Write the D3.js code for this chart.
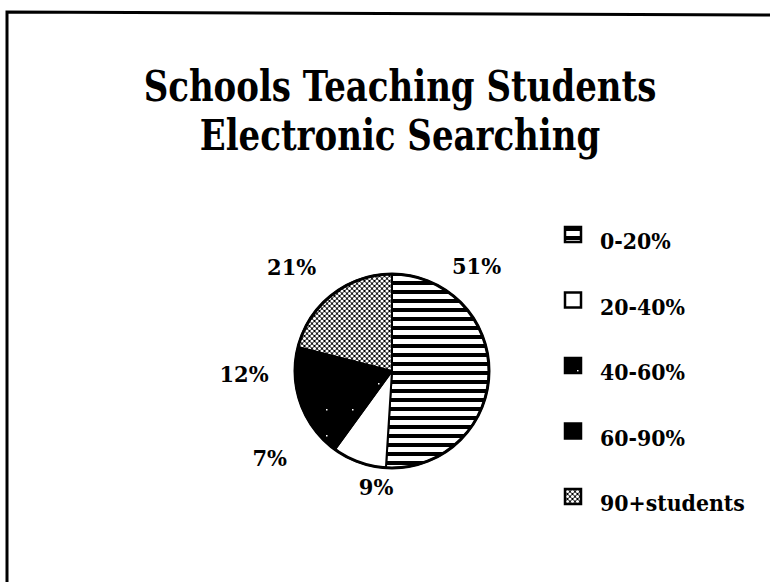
<!DOCTYPE html>
<html>
<head>
<meta charset="utf-8">
<script src="https://cdn.jsdelivr.net/npm/d3@7"></script>
<style>
  body { margin: 0; background: #fff; }
  text { font-family: "DejaVu Serif", "Liberation Serif", serif; font-weight: bold; fill: #000; }
</style>
</head>
<body>
<div class="chart"></div>
<script>
const titleLines = ["Schools Teaching Students", "Electronic Searching"];
const categories = ["0-20%", "20-40%", "40-60%", "60-90%", "90+students"];
const values = [51, 9, 7, 12, 21];

const width = 770,
  height = 582;

// pie placement
const cx = 392,
  cy = 371,
  radius = 97;

// label placement: angle offset from slice middle (deg) and distance from centre
const labelShift = [-53, -12, 6, 6, -6];
const labelDist = [135, 117, 150, 148, 145];

const fills = ["url(#stripes)", "#fff", "url(#sparse)", "#000", "url(#dots)"];

const svg = d3
  .select(".chart")
  .append("svg")
  .attr("width", width)
  .attr("height", height);

svg.append("rect").attr("width", width).attr("height", height).attr("fill", "#fff");

const defs = svg.append("defs");

const stripes = defs
  .append("pattern")
  .attr("id", "stripes")
  .attr("patternUnits", "userSpaceOnUse")
  .attr("width", 10)
  .attr("height", 9);
stripes.append("rect").attr("width", 10).attr("height", 9).attr("fill", "#fff");
stripes.append("rect").attr("width", 10).attr("height", 4).attr("fill", "#000");

const dots = defs
  .append("pattern")
  .attr("id", "dots")
  .attr("patternUnits", "userSpaceOnUse")
  .attr("width", 5)
  .attr("height", 5);
dots.append("rect").attr("width", 5).attr("height", 5).attr("fill", "#000");
[[0, 0], [5, 0], [0, 5], [5, 5], [2.5, 2.5]].forEach((p) => {
  dots.append("circle").attr("cx", p[0]).attr("cy", p[1]).attr("r", 1.6).attr("fill", "#fff");
});

const sparse = defs
  .append("pattern")
  .attr("id", "sparse")
  .attr("patternUnits", "userSpaceOnUse")
  .attr("width", 26)
  .attr("height", 26);
sparse.append("rect").attr("width", 26).attr("height", 26).attr("fill", "#000");
sparse.append("rect").attr("x", 12).attr("y", 12).attr("width", 1.5).attr("height", 1.5).attr("fill", "#fff");

// frame (left and top edges only)
svg
  .append("path")
  .attr("d", "M7,582 L7,12 L770,15")
  .attr("fill", "none")
  .attr("stroke", "#000")
  .attr("stroke-width", 3);

// title (the original face is taller than DejaVu, so stretch it vertically)
svg
  .append("g")
  .selectAll("text")
  .data(titleLines)
  .enter()
  .append("text")
  .attr("transform", (d, i) => `translate(400, ${101 + i * 49}) scale(1, 1.25)`)
  .attr("text-anchor", "middle")
  .attr("font-size", 34)
  .text((d) => d);

// pie
const pie = d3.pie().sort(null).value((d) => d);
const arcs = pie(values);
const arc = d3.arc().innerRadius(0).outerRadius(radius);

const pieGroup = svg.append("g").attr("transform", `translate(${cx}, ${cy})`);

pieGroup
  .selectAll("path")
  .data(arcs)
  .enter()
  .append("path")
  .attr("d", arc)
  .attr("fill", (d, i) => fills[i])
  .attr("stroke", "#000")
  .attr("stroke-width", 2)
  .attr("stroke-linejoin", "round");

pieGroup
  .append("circle")
  .attr("r", radius)
  .attr("fill", "none")
  .attr("stroke", "#000")
  .attr("stroke-width", 3);

pieGroup
  .selectAll(".label")
  .data(arcs)
  .enter()
  .append("text")
  .attr("class", "label")
  .attr("transform", (d, i) => {
    const a = (d.startAngle + d.endAngle) / 2 + (labelShift[i] * Math.PI) / 180;
    const r = labelDist[i];
    return `translate(${r * Math.sin(a)}, ${-r * Math.cos(a)}) scale(1, 1.08)`;
  })
  .attr("text-anchor", "middle")
  .attr("dy", "0.36em")
  .attr("font-size", 21)
  .text((d) => d.data + "%");

// legend
const legend = svg
  .append("g")
  .selectAll("g")
  .data(categories)
  .enter()
  .append("g")
  .attr("transform", (d, i) => `translate(565, ${227 + i * 65.5})`);

legend
  .append("rect")
  .attr("width", 16)
  .attr("height", 15)
  .attr("fill", (d, i) => fills[i])
  .attr("stroke", "#000")
  .attr("stroke-width", 2.5);

legend
  .append("text")
  .attr("transform", "translate(35, 22) scale(1, 1.08)")
  .attr("font-size", 20.5)
  .text((d) => d);
</script>
</body>
</html>
